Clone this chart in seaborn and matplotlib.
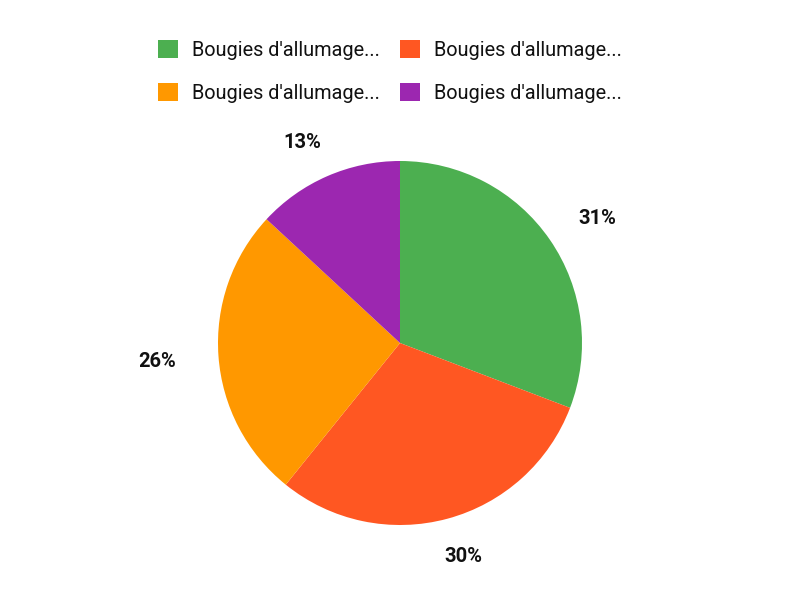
import numpy as np
import matplotlib
matplotlib.use('Agg')
import matplotlib.pyplot as plt
import seaborn as sns

sns.set_theme(style='white')
plt.rcParams['font.family'] = ['Roboto', 'DejaVu Sans']

# data
labels = ["Bougies d'allumage...", "Bougies d'allumage...",
          "Bougies d'allumage...", "Bougies d'allumage..."]
shares = [30.8, 30.0, 26.1, 13.1]
colors = ['#4CAF50', '#FF5722', '#FF9800', '#9C27B0']

fig = plt.figure(figsize=(8, 6), dpi=100)
fig.patch.set_facecolor('white')

# pie centred at (400, 343) px with radius ~182 px
r = 182
ax = fig.add_axes([(400 - r) / 800, (600 - 343 - r) / 600, 2 * r / 800, 2 * r / 600])
wedges, texts, autotexts = ax.pie(
    shares, colors=colors, startangle=90, counterclock=False,
    autopct='%1.0f%%', pctdistance=1.27, radius=1,
    wedgeprops={'linewidth': 0},
    textprops={'fontsize': 14.5, 'fontweight': 'bold', 'color': '#111111'})
ax.set_xlim(-1, 1)
ax.set_ylim(-1, 1)
ax.set_aspect('equal')

# outside labels: per-slice distance and small angular nudge (deg)
label_dist = [1.287, 1.212, 1.337, 1.234]
label_nudge = [-2.0, 1.5, -0.3, 2.3]
for w, t, d, n in zip(wedges, autotexts, label_dist, label_nudge):
    mid = np.deg2rad((w.theta1 + w.theta2) / 2 + n)
    t.set_position((d * np.cos(mid), d * np.sin(mid) - 0.01))

# legend order: row-wise green, red / orange, purple
leg = fig.legend([wedges[i] for i in [0, 2, 1, 3]],
                 [labels[i] for i in [0, 2, 1, 3]],
                 loc='center', bbox_to_anchor=(390 / 800, 1 - 71.5 / 600),
                 ncol=2, frameon=False, fontsize=14.3,
                 handlelength=1.0, handleheight=1.0, handletextpad=0.7,
                 columnspacing=1.0, labelspacing=1.2)
for t in leg.get_texts():
    t.set_color('#111111')

fig.savefig('out.png', dpi=100, facecolor='white')
